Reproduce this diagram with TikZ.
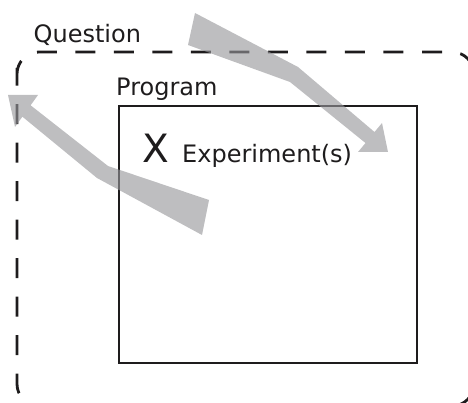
\documentclass[tikz,border=0pt]{standalone}
\usepackage{fontspec}
\setmainfont{DejaVu Sans}
\definecolor{inkc}{RGB}{30,28,29}
\definecolor{arrowc}{RGB}{150,150,154}
\tikzset{
  lbl/.style={anchor=base west, inner sep=0pt, text=inkc, font=\fontsize{24}{28}\selectfont},
  bigx/.style={anchor=base west, inner sep=0pt, text=inkc, font=\fontsize{39}{44}\selectfont},
  qbox/.style={draw=inkc, line width=2.8pt, dash pattern=on 20pt off 18.5pt, rounded corners=22pt},
  pbox/.style={draw=inkc, line width=2.2pt, rectangle, minimum width=298pt, minimum height=257pt, inner sep=0pt},
  fatarrow/.style={fill=arrowc, fill opacity=0.62, draw=none}
}
\begin{document}
\begin{tikzpicture}[x=1pt, y=-1pt]
\useasboundingbox (0,0) rectangle (468,403);
\clip (0,0) rectangle (468,403);
% question frame
\draw[qbox] (17,90) -- (17,52) -- (474,52) -- (474,406) -- (17,406) -- cycle;
% program box
\node[pbox] (program) at (268,234.5) {};
% labels
\node[lbl] (question) at (33.5,43) {Question};
\node[lbl] (programlbl) at (116,96) {Program};
\node[bigx] (x) at (142,163) {X};
\node[lbl] (experiments) at (182,163) {Experiment(s)};
% arrow into the program
\fill[fatarrow] (195,13) -- (298,67) -- (374.5,132) -- (382,123) -- (388,152)
  -- (358,152) -- (365.5,143) -- (290,82) -- (188,45) -- cycle;
% arrow out to the question
\fill[fatarrow] (209,200) -- (108,166) -- (30.6,105.3) -- (38,95) -- (8,95)
  -- (15,127) -- (22.4,116.7) -- (97,178) -- (202,235) -- cycle;
\end{tikzpicture}
\end{document}
